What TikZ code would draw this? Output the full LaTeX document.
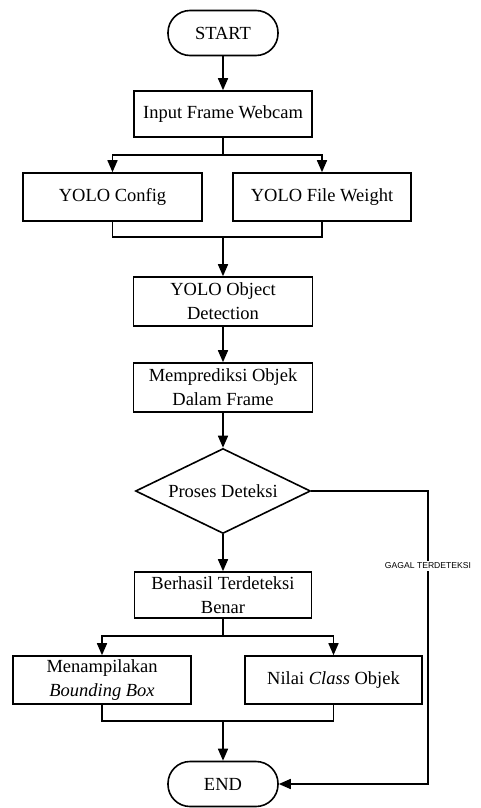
\documentclass[tikz,border=0pt]{standalone}
\usepackage{fontspec}
\setmainfont{Liberation Serif}
\newfontfamily\labelfont{Liberation Sans}
\usetikzlibrary{shapes.geometric,arrows.meta}
\begin{document}
\begin{tikzpicture}[x=1pt,y=-1pt,
  every node/.style={font=\fontsize{18.5}{24}\selectfont, align=center, inner sep=0pt},
  procbox/.style={draw, line width=1.6pt, rectangle, minimum height=47pt},
  termbox/.style={draw, line width=1.6pt, rectangle, rounded corners=22pt, minimum width=110pt, minimum height=45pt},
  decbox/.style={draw, line width=1.6pt, diamond, aspect=2.06, minimum width=175pt, minimum height=85pt},
  conn/.style={line width=1.6pt},
  arr/.style={line width=1.6pt, -{Triangle[length=12pt,width=10pt]}},
  lbl/.style={fill=white, font=\labelfont\fontsize{8.6}{10}\selectfont, inner sep=1.5pt}
]
\useasboundingbox (0,0) rectangle (480,808);

\node[termbox] (start) at (223,33) {START};
\node[procbox, minimum width=178pt, minimum height=46pt] (input) at (223,114) {Input Frame Webcam};
\node[procbox, minimum width=179pt, minimum height=48pt] (cfg) at (112.5,197) {YOLO Config};
\node[procbox, minimum width=178pt, minimum height=48pt] (weight) at (322,197) {YOLO File Weight};
\node[procbox, minimum width=179pt, minimum height=49pt] (yolo) at (223,301.5) {YOLO Object\\Detection};
\node[procbox, minimum width=179pt, minimum height=49pt] (pred) at (223,387.5) {Memprediksi Objek\\Dalam Frame};
\node[decbox] (dec) at (223,491) {Proses Deteksi};
\node[procbox, minimum width=177pt, minimum height=46pt] (ok) at (223,595) {Berhasil Terdeteksi\\Benar};
\node[procbox, minimum width=178pt, minimum height=48pt] (bbox) at (102,680) {Menampilakan\\\textit{Bounding Box}};
\node[procbox, minimum width=177pt, minimum height=48pt] (cls) at (333.5,680) {Nilai \textit{Class} Objek};
\node[termbox] (end) at (223,784) {END};

\coordinate (split1) at (223,155);
\coordinate (merge1) at (223,237);
\coordinate (split2) at (223,636);
\coordinate (merge2) at (223,721);
\coordinate (corner) at (428,491);

\draw[arr] (start) -- (input);
\draw[conn] (input.south) -- (split1);
\draw[arr] (split1) -| (cfg.north);
\draw[arr] (split1) -| (weight.north);
\draw[conn] (cfg.south) |- (merge1) -| (weight.south);
\draw[arr] (merge1) -- (yolo.north);
\draw[arr] (yolo) -- (pred);
\draw[arr] (pred) -- (dec);
\draw[arr] (dec) -- (ok);
\draw[conn] (ok.south) -- (split2);
\draw[arr] (split2) -| (bbox.north);
\draw[arr] (split2) -| (cls.north);
\draw[conn] (bbox.south) |- (merge2) -| (cls.south);
\draw[arr] (merge2) -- (end.north);
\draw[arr] (dec.east) -- (corner) |- (end.east)
  node[lbl, pos=0.128] (fail) {GAGAL TERDETEKSI};
\end{tikzpicture}
\end{document}
